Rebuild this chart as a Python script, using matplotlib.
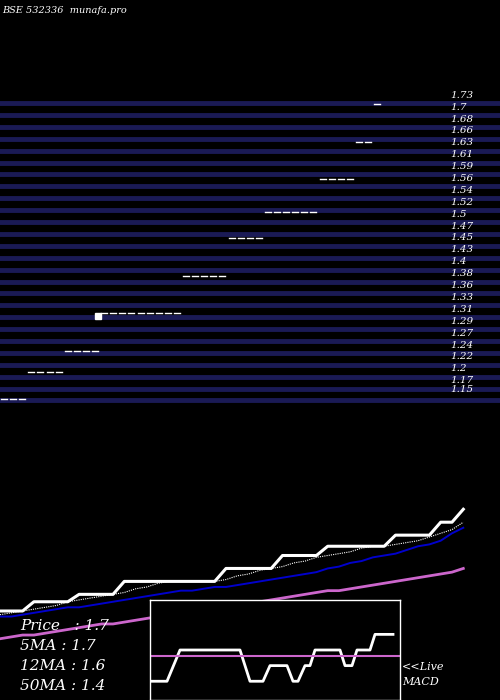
import matplotlib
matplotlib.use("Agg")
import matplotlib.pyplot as plt

# price levels shown on the right of the top panel
level_labels = ["1.73", "1.7", "1.68", "1.66", "1.63", "1.61", "1.59", "1.56", "1.54",
                "1.52", "1.5", "1.47", "1.45", "1.43", "1.4", "1.38", "1.36", "1.33",
                "1.31", "1.29", "1.27", "1.24", "1.22", "1.2", "1.17", "1.15"]

# daily closes
price = [1.15, 1.15, 1.15,
         1.2, 1.2, 1.2, 1.2,
         1.24, 1.24, 1.24, 1.24,
         1.31, 1.31, 1.31, 1.31, 1.31, 1.31, 1.31, 1.31, 1.31,
         1.38, 1.38, 1.38, 1.38, 1.38,
         1.45, 1.45, 1.45, 1.45,
         1.5, 1.5, 1.5, 1.5, 1.5, 1.5,
         1.56, 1.56, 1.56, 1.56,
         1.63, 1.63,
         1.7]
ma5 = [1.13, 1.14, 1.15, 1.16, 1.17, 1.18, 1.2, 1.21, 1.22, 1.23, 1.24, 1.25, 1.27, 1.28,
       1.3, 1.31, 1.31, 1.31, 1.31, 1.31, 1.32, 1.34, 1.35, 1.37, 1.38, 1.39, 1.41, 1.42,
       1.44, 1.45, 1.46, 1.47, 1.49, 1.5, 1.5, 1.51, 1.52, 1.53, 1.55, 1.57, 1.59, 1.63]
ma12 = [1.12, 1.12, 1.13, 1.14, 1.15, 1.16, 1.17, 1.17, 1.18, 1.19, 1.2, 1.21, 1.22, 1.23,
        1.24, 1.25, 1.26, 1.26, 1.27, 1.28, 1.28, 1.29, 1.3, 1.31, 1.32, 1.33, 1.34, 1.35,
        1.36, 1.38, 1.39, 1.41, 1.42, 1.44, 1.45, 1.46, 1.48, 1.5, 1.51, 1.53, 1.57, 1.6]
ma50 = [1.0, 1.01, 1.02, 1.02, 1.03, 1.04, 1.05, 1.06, 1.07, 1.08, 1.08, 1.09, 1.1, 1.11,
        1.12, 1.13, 1.14, 1.15, 1.16, 1.17, 1.17, 1.18, 1.19, 1.2, 1.21, 1.22, 1.23, 1.24,
        1.25, 1.26, 1.26, 1.27, 1.28, 1.29, 1.3, 1.31, 1.32, 1.33, 1.34, 1.35, 1.36, 1.38]

# macd line and signal
macd_x = [0, 17, 30, 90, 100, 113, 120, 137, 143, 148, 155, 160, 165, 190, 195, 202, 207, 220, 225, 238, 243]
macd_y = [0, 0, 1, 1, 0, 0, 0.5, 0.5, 0, 0, 0.5, 0.5, 1, 1, 0.5, 0.5, 1, 1, 1.5, 1.5, 1.5]
macd_signal = 0.82

W, H = 500, 700
fig = plt.figure(figsize=(5, 7), dpi=100, facecolor="black")
serif = dict(family="DejaVu Serif", style="italic", color="white")

# top panel: level grid + price dashes
top = fig.add_axes([0, 1 - 410 / H, 1, 320 / H], facecolor="black")
n = len(level_labels)
for i in range(n):
    top.axhline(i, color="#1a1a55", lw=3.5)
    top.text(450, i + 0.45 if i > 0 else i + 0.75, level_labels[::-1][i],
             fontsize=7.5, **serif)
p_lo, p_hi = 1.15, 1.7
days = list(range(len(price)))
ypos = [(p - p_lo) / (p_hi - p_lo) * (n - 1.2) for p in price]
for d, y in zip(days, ypos):
    top.plot([d * 9.1 + 1, d * 9.1 + 7], [y + 0.1, y + 0.1], color="white", lw=1)
top.plot([98], [ypos[11] - 0.1], marker="s", color="white", ms=5)
top.set_xlim(0, 500)
top.set_ylim(-0.8, n + 0.1)
top.axis("off")

# bottom panel: price and moving averages
bot = fig.add_axes([0, 0, 1, 280 / H], facecolor="black")
xs = [d * 11.3 for d in days]
bot.plot(xs, price, color="white", lw=2.2)
bot.plot(xs, ma5, color="white", lw=0.8, ls=(0, (1, 1)))
bot.plot(xs, ma12, color="#0000cc", lw=1.4)
bot.plot(xs, ma50, color="#cc66cc", lw=2)
bot.set_xlim(0, 500)
bot.set_ylim(1.15 - 89 / 185, 1.15 + 191 / 185)
bot.axis("off")

fig.text(0.005, 1 - 13 / H, "BSE 532336  munafa.pro", fontsize=7, **serif)
for i, t in enumerate(["Price   : 1.7", "5MA : 1.7", "12MA : 1.6", "50MA : 1.4"]):
    fig.text(20 / W, 1 - (630 + 20 * i) / H, t, fontsize=11, **serif)
fig.text(402 / W, 1 - 670 / H, "<<Live", fontsize=8, **serif)
fig.text(402 / W, 1 - 685 / H, "MACD", fontsize=8, **serif)

# macd inset
mac = fig.add_axes([150 / W, 0, 250 / W, 100 / H], facecolor="black")
mac.plot(macd_x, macd_y, color="white", lw=2)
mac.axhline(macd_signal, color="#cc66cc", lw=1.5)
mac.set_xlim(0, 250)
mac.set_ylim(-0.6, 2.6)
mac.set_xticks([])
mac.set_yticks([])
for s in mac.spines.values():
    s.set_color("white")
    s.set_linewidth(1)

fig.savefig("out.png", facecolor="black")
